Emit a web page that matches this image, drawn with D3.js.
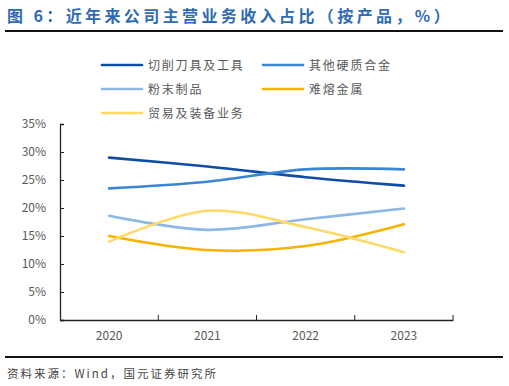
<!DOCTYPE html>
<html lang="zh">
<head>
<meta charset="UTF-8">
<title>近年来公司主营业务收入占比</title>
<script src="https://cdn.jsdelivr.net/npm/d3@7/dist/d3.min.js"></script>
<style>
  body { margin: 0; background: #fff; }
  text { font-family: "Noto Sans CJK SC", "Noto Sans", sans-serif; }
</style>
</head>
<body>
<div id="container"></div>
<script>
// data
const years = ['2020', '2021', '2022', '2023'];
const seriesNames = ['切削刀具及工具', '其他硬质合金', '粉末制品', '难熔金属', '贸易及装备业务'];
const cutting = [29.0, 27.4, 25.5, 24.0];
const otherCarbide = [23.5, 24.7, 26.9, 26.9];
const powder = [18.6, 16.1, 18.0, 19.9];
const refractory = [15.0, 12.5, 13.2, 17.1];
const trade = [14.0, 19.5, 16.6, 12.1];
const yTicks = [0, 5, 10, 15, 20, 25, 30, 35];

const colors = ['#0E4DA4', '#3A86D0', '#8DB8E5', '#F6B300', '#FFD966'];
const allSeries = [cutting, otherCarbide, powder, refractory, trade];

const W = 509, H = 386;
const margin = { left: 60, right: 56, top: 124, bottom: 66 };

let svg = d3.select('#container')
    .append('svg')
    .attr('width', W)
    .attr('height', H);

// title + rules
svg.append('text')
    .attr('x', 7)
    .attr('y', 22)
    .attr('fill', '#2F6AB4')
    .attr('font-size', 16)
    .attr('font-weight', 'bold')
    .attr('letter-spacing', 3.4)
    .text('图 6：近年来公司主营业务收入占比（按产品，%）');

svg.append('line')
    .attr('x1', 5).attr('x2', 503)
    .attr('y1', 31).attr('y2', 31)
    .attr('stroke', '#111').attr('stroke-width', 2);

svg.append('line')
    .attr('x1', 5).attr('x2', 503)
    .attr('y1', 357).attr('y2', 357)
    .attr('stroke', '#111').attr('stroke-width', 2);

svg.append('text')
    .attr('x', 7)
    .attr('y', 378)
    .attr('fill', '#444')
    .attr('font-size', 11.5)
    .attr('letter-spacing', 2)
    .text('资料来源：Wind，国元证券研究所');

// scales
let x = d3.scaleBand()
    .domain(years)
    .range([margin.left, W - margin.right]);

let y = d3.scaleLinear()
    .domain([0, 35])
    .range([H - margin.bottom, margin.top]);

// axes
let xAxis = svg.append('g')
    .attr('transform', 'translate(0,' + (H - margin.bottom) + ')')
    .call(d3.axisBottom(x).tickSize(0).tickPadding(11));
xAxis.select('.domain').attr('stroke', '#222').attr('stroke-width', 1.3);
xAxis.selectAll('text').attr('font-size', 12).attr('fill', '#595959')
    .attr('font-family', 'Liberation Sans, Arial, sans-serif');

// inner ticks on band boundaries
xAxis.selectAll('.bt')
    .data(years)
    .enter().append('line')
    .attr('x1', d => x(d) + x.bandwidth())
    .attr('x2', d => x(d) + x.bandwidth())
    .attr('y1', 0).attr('y2', -5)
    .attr('stroke', '#222');

let yAxis = svg.append('g')
    .attr('transform', 'translate(' + margin.left + ',0)')
    .call(d3.axisLeft(y).tickValues(yTicks).tickFormat(d => d + '%').tickSize(-4).tickPadding(14));
yAxis.select('.domain').attr('stroke', '#222').attr('stroke-width', 1.3);
yAxis.selectAll('line').attr('stroke', '#222');
yAxis.selectAll('text').attr('font-size', 12).attr('fill', '#595959')
    .attr('font-family', 'Liberation Sans, Arial, sans-serif');

// lines
let line = d3.line()
    .x((d, i) => x(years[i]) + x.bandwidth() / 2)
    .y(d => y(d))
    .curve(d3.curveCatmullRom.alpha(0));

svg.selectAll('.series')
    .data(allSeries)
    .enter().append('path')
    .attr('class', 'series')
    .attr('d', line)
    .attr('fill', 'none')
    .attr('stroke', (d, i) => colors[i])
    .attr('stroke-width', 2.6)
    .attr('stroke-linecap', 'round');

// legend
const legPos = [[102, 65], [263, 65], [102, 89], [263, 89], [102, 113]];
let leg = svg.selectAll('.leg')
    .data(seriesNames)
    .enter().append('g')
    .attr('class', 'leg')
    .attr('transform', (d, i) => 'translate(' + legPos[i][0] + ',' + legPos[i][1] + ')');

leg.append('line')
    .attr('x1', 0).attr('x2', 40)
    .attr('stroke', (d, i) => colors[i])
    .attr('stroke-width', 2.6)
    .attr('stroke-linecap', 'round');

leg.append('text')
    .attr('x', 46)
    .attr('y', 4.5)
    .attr('font-size', 12)
    .attr('fill', '#595959')
    .attr('letter-spacing', 1.8)
    .text(d => d);
</script>
</body>
</html>
